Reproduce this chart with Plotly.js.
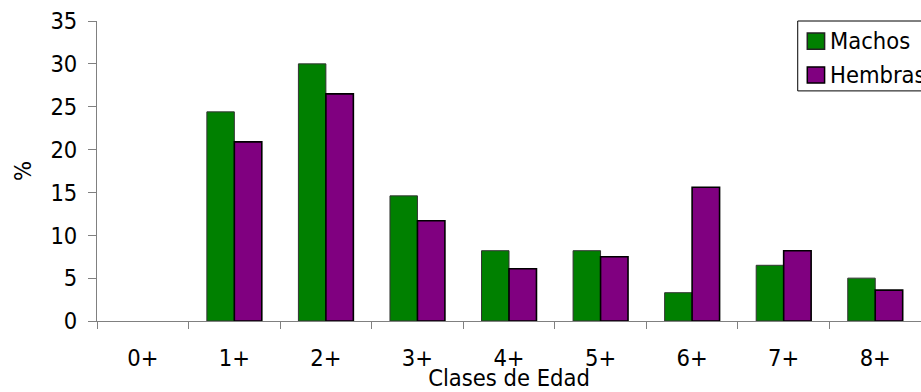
<!DOCTYPE html>
<html>
<head>
<meta charset="utf-8">
<script src="https://cdn.plot.ly/plotly-3.0.1.min.js"></script>
<style>
  html, body { margin: 0; padding: 0; background: #fff; }
  #chart { width: 921px; height: 392px; }
</style>
</head>
<body>
<div id="chart"></div>
<script>
// Age classes and percentage per sex
const ageClasses = ['0+', '1+', '2+', '3+', '4+', '5+', '6+', '7+', '8+'];
const machos  = [0, 24.4, 30.0, 14.6, 8.2, 8.2, 3.3, 6.5, 5.0];
const hembras = [0, 20.9, 26.5, 11.7, 6.1, 7.5, 15.6, 8.2, 3.6];
const yTicks = [0, 5, 10, 15, 20, 25, 30, 35];

const FONT = 'DejaVu Sans Condensed, DejaVu Sans, sans-serif';
const FS = 23.5;
const GREEN = '#008000';
const PURPLE = '#800080';

// empty classes get no outline so nothing shows on the baseline
const outline = (vals, w) => vals.map(v => (v > 0 ? w : 0));

const traces = [
  {
    type: 'bar', name: 'Machos', x: ageClasses, y: machos,
    marker: { color: GREEN, line: { color: '#333333', width: outline(machos, 1) } }
  },
  {
    type: 'bar', name: 'Hembras', x: ageClasses, y: hembras,
    marker: { color: PURPLE, line: { color: '#000000', width: outline(hembras, 1.6) } }
  }
];

// Boxed legend in the top-right corner
const legendItems = [
  { label: 'Machos', color: GREEN, line: '#222', yc: 0.933 },
  { label: 'Hembras', color: PURPLE, line: '#000', yc: 0.820 }
];
const shapes = [
  { type: 'rect', xref: 'paper', yref: 'paper', x0: 0.8504, x1: 1.1, y0: 0.767, y1: 1.0,
    line: { color: '#000', width: 1 }, fillcolor: '#fff' }
];
const annotations = [];
legendItems.forEach(it => {
  shapes.push({ type: 'rect', xref: 'paper', yref: 'paper',
    x0: 0.8620, x1: 0.8830, y0: it.yc - 0.027, y1: it.yc + 0.027,
    line: { color: it.line, width: 1.5 }, fillcolor: it.color });
  annotations.push({ xref: 'paper', yref: 'paper', x: 0.8875, y: it.yc,
    xanchor: 'left', yanchor: 'middle', showarrow: false, text: it.label,
    font: { family: FONT, size: FS, color: '#000' } });
});

const layout = {
  width: 921, height: 392,
  margin: { l: 97, r: 0, t: 21, b: 71, pad: 0 },
  paper_bgcolor: '#fff', plot_bgcolor: '#fff',
  barmode: 'group', bargap: 0.4, bargroupgap: 0,
  showlegend: false,
  font: { family: FONT, size: FS, color: '#000' },
  xaxis: {
    type: 'category', categoryorder: 'array', categoryarray: ageClasses,
    showline: true, linecolor: '#808080', linewidth: 1,
    ticks: 'outside', tickson: 'boundaries', ticklen: 7, tickcolor: '#808080', tickwidth: 1,
    ticklabelstandoff: 16,
    showgrid: false, zeroline: false,
    title: { text: 'Clases de Edad', standoff: 0, font: { family: FONT, size: FS } }
  },
  yaxis: {
    range: [0, 35], tickvals: yTicks, ticktext: yTicks.map(String),
    showline: true, linecolor: '#808080', linewidth: 1,
    ticks: 'outside', ticklen: 8, tickcolor: '#808080', tickwidth: 1,
    ticklabelstandoff: 6,
    showgrid: false, zeroline: false,
    title: { text: '%', standoff: 12, font: { family: FONT, size: FS } }
  },
  shapes: shapes,
  annotations: annotations
};

Plotly.newPlot('chart', traces, layout, { staticPlot: true, displayModeBar: false });
</script>
</body>
</html>
